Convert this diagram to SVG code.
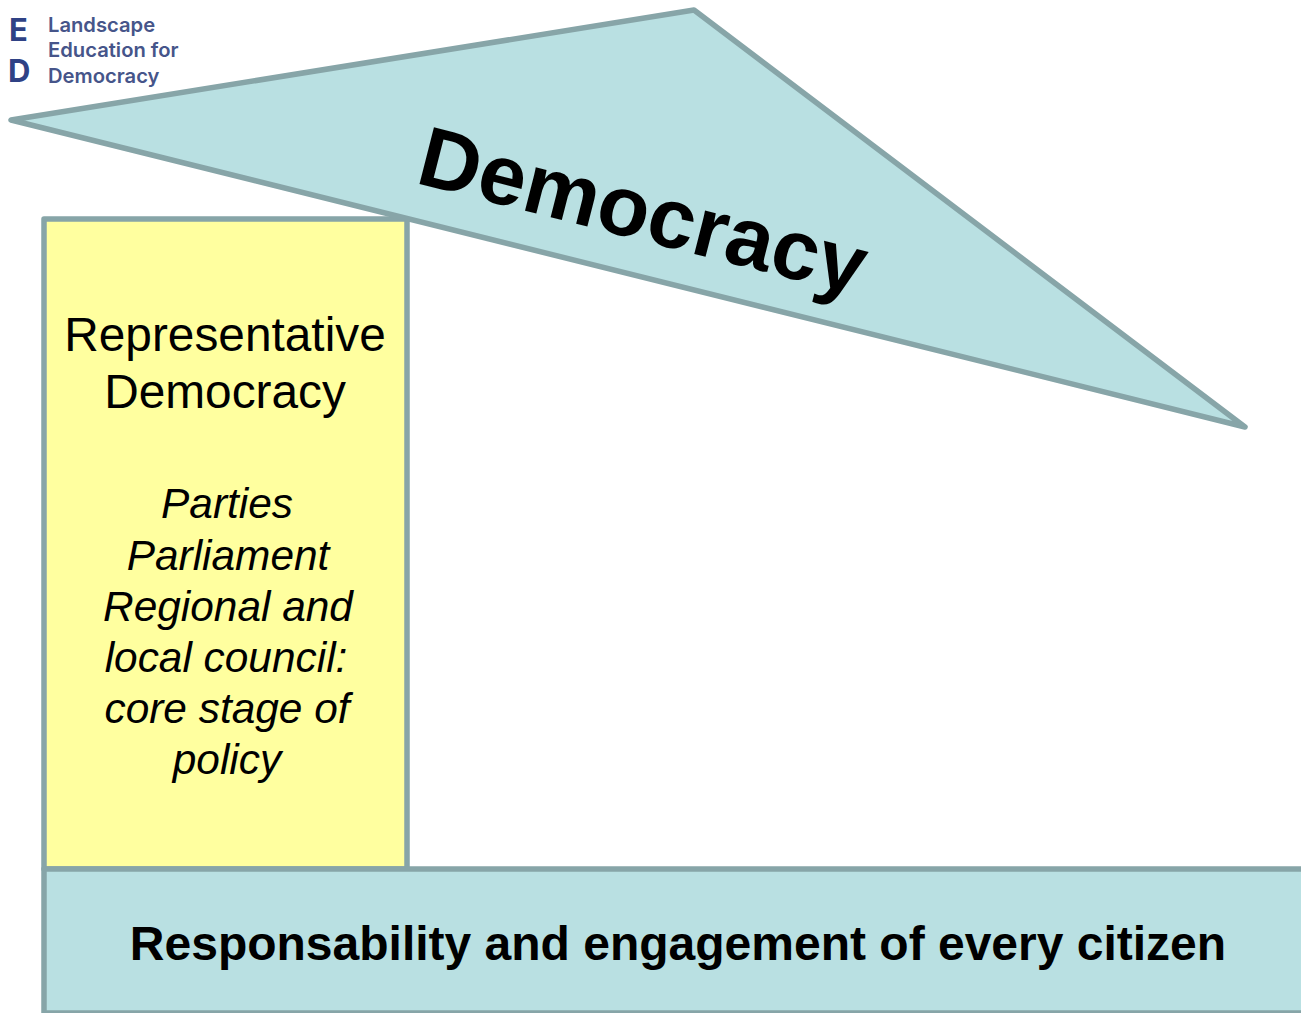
<svg xmlns="http://www.w3.org/2000/svg" width="1301" height="1013" viewBox="0 0 1301 1013">
<style>
.s{stroke:#87a5a8;stroke-width:5.5;stroke-linejoin:round}
.t{font-family:"Liberation Sans",Arial,sans-serif;fill:#000;text-anchor:middle}
.l{font-family:"Inter","Open Sans",sans-serif;font-weight:600;fill:#46558a;font-size:20.2px}
.e{font-family:"Inter","Open Sans",sans-serif;font-weight:700;fill:#2f4285;font-size:31px}
.i{font-size:42.4px;font-style:italic}
.r{font-size:47.8px}
</style>
<rect width="1301" height="1013" fill="#fff"/>
<g id="logo"><text class="e" x="9" y="41">E</text><text class="e" x="8" y="82">D</text>
<text class="l" x="48" y="32">Landscape</text><text class="l" x="48" y="57">Education for</text><text class="l" x="48" y="83">Democracy</text></g>
<g id="representative">
<rect class="s" x="44" y="219" width="363" height="650" fill="#ffff9f"/>
<text class="t r" x="225" y="351">Representative</text><text class="t r" x="225" y="408">Democracy</text>
<text class="t i" x="227" y="518">Parties</text><text class="t i" x="228" y="570">Parliament</text><text class="t i" x="228" y="621">Regional and</text><text class="t i" x="226" y="672">local council:</text><text class="t i" x="227" y="723">core stage of</text><text class="t i" x="227" y="774">policy</text>
</g>
<g id="roof">
<polygon class="s" points="11,120 694,10 1245,427" fill="#b9e0e2"/>
<text class="t" x="0" y="0" font-size="85" font-weight="700" transform="translate(636,239) rotate(14.3)">Democracy</text>
</g>
<g id="base">
<path class="s" d="M1301,869H44V1013H1301" fill="#b9e0e2" stroke-linejoin="miter"/>
<text class="t" x="678" y="960" font-size="48" font-weight="700">Responsability and engagement of every citizen</text>
</g>
<g id="connectors"></g>
</svg>
